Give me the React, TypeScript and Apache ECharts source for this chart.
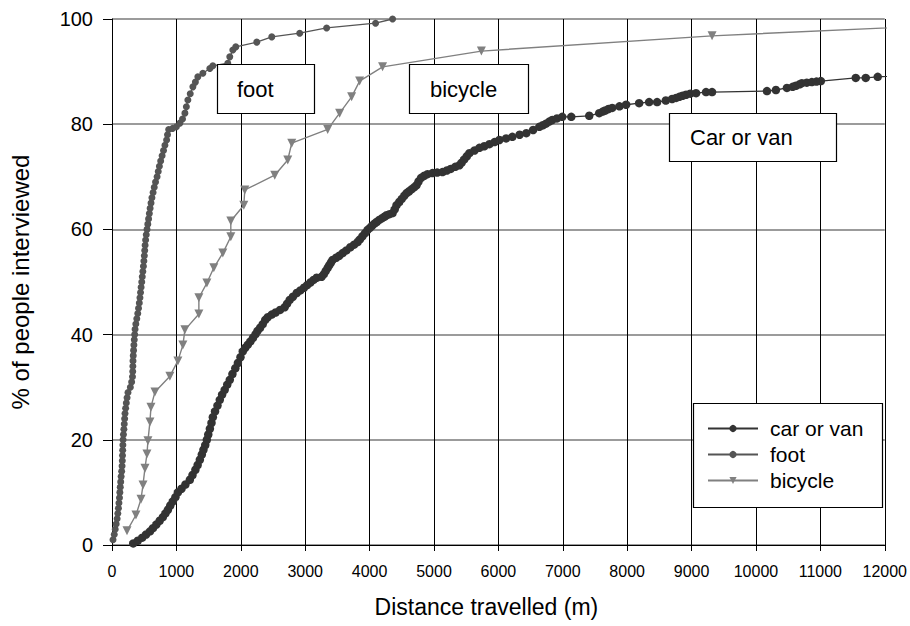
import React, { useEffect, useRef } from "react";
import * as echarts from "echarts";

const FONT = "'Liberation Sans', Arial, Helvetica, sans-serif";

const seriesNames = ["car or van", "foot", "bicycle"];

// [distance (m), % of people interviewed]
const carOrVan: number[][] = [
  [330, 0.3], [400, 0.8], [470, 1.4], [530, 2.0], [590, 2.6], [636, 3.2], [690, 3.9], [740, 4.6],
  [790, 5.3], [830, 6.0], [868, 6.7], [905, 7.5], [945, 8.3], [985, 9.1], [1023, 10.0], [1080, 10.7],
  [1140, 11.5], [1209, 12.4], [1250, 13.3], [1295, 14.3], [1330, 15.2], [1364, 16.2], [1395, 17.2],
  [1420, 18.1], [1448, 19.0], [1473, 20.0], [1495, 21.0], [1520, 22.1], [1545, 23.2], [1566, 24.3],
  [1600, 25.4], [1638, 26.5], [1674, 27.6], [1710, 28.6], [1750, 29.5], [1790, 30.5], [1829, 31.4],
  [1870, 32.5], [1915, 33.6], [1955, 34.6], [1995, 35.7], [2031, 36.8], [2070, 37.5], [2110, 38.1],
  [2150, 38.7], [2190, 39.4], [2230, 40.1], [2260, 40.7], [2300, 41.3], [2341, 42.0], [2380, 42.8],
  [2419, 43.3], [2480, 43.8], [2540, 44.2], [2610, 44.7], [2682, 45.2], [2720, 45.9], [2760, 46.6],
  [2810, 47.2], [2868, 47.9], [2925, 48.4], [2980, 48.9], [3030, 49.4], [3080, 49.9], [3130, 50.4],
  [3178, 50.8], [3256, 51.0], [3290, 51.5], [3320, 52.1], [3350, 52.7], [3375, 53.2], [3400, 53.7],
  [3426, 54.2], [3480, 54.6], [3530, 55.0], [3581, 55.5], [3640, 56.0], [3700, 56.6], [3760, 57.1],
  [3814, 57.6], [3850, 58.1], [3890, 58.7], [3930, 59.3], [3969, 59.9], [4005, 60.3], [4040, 60.7],
  [4075, 61.1], [4109, 61.4], [4150, 61.8], [4190, 62.1], [4230, 62.4], [4264, 62.7], [4310, 62.9],
  [4357, 63.1], [4390, 63.8], [4419, 64.6], [4460, 65.2], [4500, 65.8], [4540, 66.4], [4574, 66.9],
  [4610, 67.2], [4650, 67.6], [4690, 68.0], [4729, 68.4], [4760, 69.1], [4800, 69.8], [4850, 70.2],
  [4900, 70.5], [4977, 70.7], [5050, 70.8], [5132, 70.9], [5200, 71.2], [5260, 71.5], [5330, 71.9],
  [5395, 72.2], [5430, 72.7], [5470, 73.3], [5510, 73.9], [5550, 74.5], [5630, 75.0], [5705, 75.5],
  [5780, 75.8], [5860, 76.2], [5940, 76.6], [6016, 77.0], [6120, 77.3], [6217, 77.6], [6330, 78.0],
  [6434, 78.3], [6540, 78.9], [6636, 79.5], [6690, 79.8], [6740, 80.1], [6790, 80.5], [6837, 80.8],
  [6910, 81.1], [6992, 81.4], [7132, 81.4], [7411, 81.6], [7566, 82.1], [7620, 82.4], [7660, 82.6],
  [7710, 82.9], [7767, 83.1], [7880, 83.4], [7984, 83.7], [8186, 84.0], [8341, 84.2], [8465, 84.2],
  [8600, 84.5], [8698, 84.8], [8760, 85.0], [8810, 85.2], [8860, 85.4], [8915, 85.6], [8980, 85.8],
  [9070, 85.9], [9225, 86.1], [9318, 86.1], [10171, 86.3], [10310, 86.5], [10481, 86.9], [10570, 87.1],
  [10620, 87.3], [10680, 87.6], [10713, 87.8], [10790, 87.9], [10868, 88.0], [10940, 88.1], [11008, 88.2],
  [11550, 88.8], [11705, 88.8], [11891, 89.0], [12600, 89.4],
];

const foot: number[][] = [
  [16, 1], [35, 2], [50, 3], [65, 4], [80, 5], [90, 6], [100, 7], [108, 8], [116, 9], [122, 10],
  [128, 11], [135, 12], [142, 13], [150, 14], [156, 15], [160, 16], [163, 17], [166, 18], [169, 19],
  [172, 20], [178, 21], [184, 22], [190, 23], [196, 24], [202, 25], [212, 26], [222, 27], [234, 28],
  [248, 29], [285, 30], [305, 31], [318, 32], [322, 33], [324, 34], [326, 35], [330, 36], [335, 37],
  [340, 38], [346, 39], [352, 40], [358, 41], [370, 42], [385, 43], [400, 44], [412, 45], [424, 46],
  [434, 47], [443, 48], [452, 49], [462, 50], [470, 51], [479, 52], [488, 53], [495, 54], [502, 55],
  [508, 56], [514, 57], [522, 58], [532, 59], [544, 60], [556, 61], [568, 62], [580, 63], [592, 64],
  [606, 65], [620, 66], [638, 67], [656, 68], [676, 69], [700, 70], [718, 71], [736, 72], [756, 73],
  [778, 74], [800, 75], [822, 76], [848, 77], [862, 78], [880, 79], [940, 79.2], [1000, 79.5],
  [1054, 80.2], [1095, 81], [1132, 82.1], [1155, 83.3], [1178, 84.6], [1215, 85.8], [1256, 87.1],
  [1295, 88], [1333, 89], [1411, 89.7], [1519, 90.6], [1566, 91.1], [1798, 91.6], [1829, 92.8],
  [1876, 94.1], [1922, 94.7], [2248, 95.6], [2481, 96.6], [2915, 97.3], [3333, 98.3], [4093, 99.2],
  [4357, 100],
];

const bicycle: number[][] = [
  [233, 2.7], [372, 5.7], [450, 8.7], [481, 11.4], [512, 14.6], [543, 17.3], [558, 19.8], [589, 23.4],
  [605, 26.2], [667, 29.1], [899, 32.1], [1023, 35], [1101, 38], [1132, 40.9], [1349, 43.9], [1349, 47],
  [1473, 49.8], [1581, 52.7], [1721, 55.5], [1845, 58.6], [1845, 61.6], [2047, 64.6], [2062, 67.5],
  [2527, 70.3], [2729, 73.2], [2791, 76.4], [3349, 79], [3535, 82.1], [3721, 85.2], [3845, 88.2],
  [4202, 90.9], [5736, 93.9], [9318, 96.8], [14000, 99.4],
];

const xTitle = "Distance travelled (m)";
const yTitle = "% of people interviewed";

export default function App() {
  const ref = useRef<HTMLDivElement>(null);
  useEffect(() => {
    if (!ref.current) return;
    const chart = echarts.init(ref.current, null, { renderer: "svg" });
    const boxStyle = { fill: "#fff", stroke: "#000", lineWidth: 1.2 };
    const textStyle = (t: string) => ({ text: t, fontSize: 22, fontFamily: FONT, fill: "#000", verticalAlign: "middle", align: "left" });
    chart.setOption({
      animation: false,
      backgroundColor: "#fff",
      textStyle: { fontFamily: FONT },
      grid: { left: 112, top: 19, right: 24, bottom: 81, containLabel: false },
      xAxis: {
        type: "value",
        min: 0,
        max: 12000,
        interval: 1000,
        name: xTitle,
        nameLocation: "middle",
        nameGap: 50,
        nameTextStyle: { fontSize: 23, color: "#000", fontFamily: FONT, padding: [0, 24, 0, 0] },
        axisLine: { show: true, onZero: false, lineStyle: { color: "#000", width: 1 } },
        axisTick: { show: true, length: 6, lineStyle: { color: "#000" } },
        axisLabel: { fontSize: 16, color: "#000", margin: 18, fontFamily: FONT, formatter: (v: number) => String(v) },
        splitLine: { show: true, lineStyle: { color: "#000", width: 1 } },
      },
      yAxis: {
        type: "value",
        min: 0,
        max: 100,
        interval: 20,
        name: yTitle,
        nameLocation: "middle",
        nameGap: 80,
        nameRotate: 90,
        nameTextStyle: { fontSize: 24, color: "#000", fontFamily: FONT },
        axisLine: { show: true, lineStyle: { color: "#000", width: 1 } },
        axisTick: { show: true, length: 9, lineStyle: { color: "#000" } },
        axisLabel: { fontSize: 20, color: "#000", margin: 19, fontFamily: FONT, formatter: (v: number) => String(v) },
        splitLine: { show: true, lineStyle: { color: "#7a7a7a", width: 1.5 } },
      },
      legend: {
        data: seriesNames,
        orient: "vertical",
        left: 707,
        top: 418,
        itemWidth: 50,
        itemHeight: 9,
        itemGap: 5,
        padding: 0,
        z: 20,
        textStyle: { fontSize: 21, color: "#000", fontFamily: FONT, padding: [0, 0, 0, 7] },
      },
      graphic: [
        { type: "rect", z: 10, shape: { x: 693.5, y: 403.5, width: 189, height: 104 }, style: boxStyle },
        { type: "rect", z: 10, shape: { x: 217.5, y: 64.5, width: 97, height: 49 }, style: boxStyle },
        { type: "text", z: 11, x: 237, y: 89, style: textStyle("foot") },
        { type: "rect", z: 10, shape: { x: 409.5, y: 64.5, width: 119, height: 49 }, style: boxStyle },
        { type: "text", z: 11, x: 430, y: 89, style: textStyle("bicycle") },
        { type: "rect", z: 10, shape: { x: 669.5, y: 113.5, width: 167, height: 48 }, style: boxStyle },
        { type: "text", z: 11, x: 690, y: 137.5, style: textStyle("Car or van") },
      ],
      series: [
        {
          name: seriesNames[0],
          type: "line",
          data: carOrVan,
          symbol: "circle",
          symbolSize: 8.5,
          color: "#333333",
          lineStyle: { width: 1.3, color: "#333333" },
          itemStyle: { color: "#333333" },
          z: 3,
        },
        {
          name: seriesNames[1],
          type: "line",
          data: foot,
          symbol: "circle",
          symbolSize: 7,
          color: "#555555",
          lineStyle: { width: 1.3, color: "#555555" },
          itemStyle: { color: "#555555" },
          z: 3,
        },
        {
          name: seriesNames[2],
          type: "line",
          data: bicycle,
          symbol: "triangle",
          symbolRotate: 180,
          symbolSize: 9,
          color: "#808080",
          lineStyle: { width: 1.4, color: "#808080" },
          itemStyle: { color: "#808080" },
          z: 3,
        },
      ],
    });
    return () => chart.dispose();
  }, []);
  return <div ref={ref} style={{ position: "fixed", left: 0, top: 0, width: 910, height: 626 }} />;
}
